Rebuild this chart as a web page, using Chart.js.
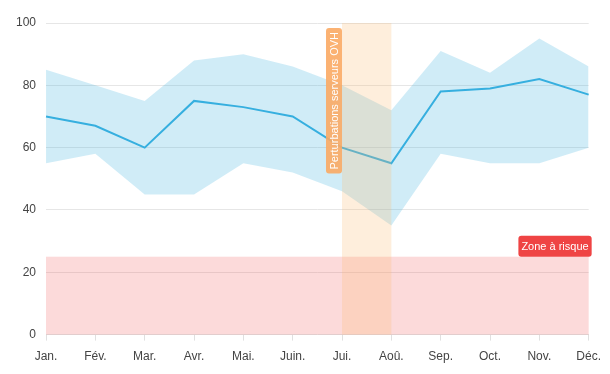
<!DOCTYPE html>
<html>
<head>
<meta charset="utf-8">
<script src="https://cdn.jsdelivr.net/npm/chart.js@4"></script>
<style>
  html, body { margin: 0; padding: 0; background: #fff; }
  #wrap { width: 610px; height: 374px; }
</style>
</head>
<body>
<div id="wrap"><canvas id="chart"></canvas></div>
<script>
const months = ['Jan.', 'Fév.', 'Mar.', 'Avr.', 'Mai.', 'Juin.', 'Jui.', 'Aoû.', 'Sep.', 'Oct.', 'Nov.', 'Déc.']
const average = [70, 67, 60, 75, 73, 70, 60, 55, 78, 79, 82, 77]
const upper = [85, 80, 75, 88, 90, 86, 80, 72, 91, 84, 95, 86]
const lower = [55, 58, 45, 45, 55, 52, 46, 35, 58, 55, 55, 60]
const yTicks = [0, 20, 40, 60, 80, 100]

// zones drawn on top of the datasets (like chartjs-plugin-annotation boxes)
const riskZone = { yMin: 0, yMax: 25, label: 'Zone à risque' }
const outageZone = { xMin: 'Jui.', xMax: 'Aoû.', label: 'Perturbations serveurs OVH' }

function roundRect(ctx, x, y, w, h, r) {
  ctx.beginPath()
  ctx.moveTo(x + r, y)
  ctx.lineTo(x + w - r, y)
  ctx.quadraticCurveTo(x + w, y, x + w, y + r)
  ctx.lineTo(x + w, y + h - r)
  ctx.quadraticCurveTo(x + w, y + h, x + w - r, y + h)
  ctx.lineTo(x + r, y + h)
  ctx.quadraticCurveTo(x, y + h, x, y + h - r)
  ctx.lineTo(x, y + r)
  ctx.quadraticCurveTo(x, y, x + r, y)
  ctx.closePath()
}

const zonesPlugin = {
  id: 'zones',
  afterDatasetsDraw(chart) {
    const { ctx, chartArea, scales } = chart
    const x = scales.x
    const y = scales.y
    ctx.save()
    ctx.font = '11px "Liberation Sans", Arial, sans-serif'

    // risk zone
    const rTop = y.getPixelForValue(riskZone.yMax)
    const rBottom = y.getPixelForValue(riskZone.yMin)
    ctx.fillStyle = 'rgba(239, 68, 68, 0.2)'
    ctx.fillRect(chartArea.left, rTop, chartArea.right - chartArea.left, rBottom - rTop)

    // outage zone
    const oLeft = x.getPixelForValue(months.indexOf(outageZone.xMin))
    const oRight = x.getPixelForValue(months.indexOf(outageZone.xMax))
    ctx.fillStyle = 'rgba(253, 186, 116, 0.25)'
    ctx.fillRect(oLeft, chartArea.top, oRight - oLeft, chartArea.bottom - chartArea.top)

    // risk label
    const rw = ctx.measureText(riskZone.label).width + 6
    const rh = 21
    ctx.fillStyle = '#ef4444'
    roundRect(ctx, chartArea.right + 3 - rw, rTop - rh, rw, rh, 3)
    ctx.fill()
    ctx.fillStyle = '#fff'
    ctx.textBaseline = 'middle'
    ctx.textAlign = 'center'
    ctx.fillText(riskZone.label, chartArea.right + 3 - rw / 2, rTop - rh / 2 + 1)

    // outage label, rotated
    const ow = ctx.measureText(outageZone.label).width + 8
    const oh = 16
    ctx.translate(oLeft - oh / 2, chartArea.top + 5 + ow / 2)
    ctx.rotate(-Math.PI / 2)
    ctx.fillStyle = 'rgba(251, 170, 100, 0.9)'
    roundRect(ctx, -ow / 2, -oh / 2, ow, oh, 3)
    ctx.fill()
    ctx.fillStyle = '#fff'
    ctx.fillText(outageZone.label, 0, 1)
    ctx.restore()
  },
}

new Chart(document.getElementById('chart'), {
  type: 'line',
  data: {
    labels: months,
    datasets: [
      {
        label: 'Max',
        data: upper,
        borderWidth: 0,
        pointRadius: 0,
        backgroundColor: 'rgba(60, 176, 222, 0.24)',
        fill: '+1',
      },
      {
        label: 'Min',
        data: lower,
        borderWidth: 0,
        pointRadius: 0,
        fill: false,
      },
      {
        label: 'Moyenne',
        data: average,
        borderColor: '#35afe0',
        borderWidth: 2,
        pointRadius: 0,
        fill: false,
        tension: 0,
      },
    ],
  },
  options: {
    responsive: true,
    maintainAspectRatio: false,
    animation: false,
    layout: { padding: { top: 23, right: 20, left: 6, bottom: 1 } },
    plugins: {
      legend: { display: false },
      tooltip: { enabled: false },
    },
    scales: {
      x: {
        grid: { drawOnChartArea: false, drawTicks: true, tickLength: 6, color: '#e0e0e0' },
        border: { color: '#e0e0e0' },
        ticks: {
          color: '#444',
          font: { family: '"Liberation Sans", Arial, sans-serif', size: 12 },
          padding: 9,
          maxRotation: 0,
          autoSkip: false,
        },
      },
      y: {
        min: 0,
        max: 100,
        afterBuildTicks: (axis) => {
          axis.ticks = yTicks.map((v) => ({ value: v }))
        },
        grid: { drawTicks: false, color: '#e6e6e6' },
        border: { display: false },
        ticks: {
          color: '#444',
          font: { family: '"Liberation Sans", Arial, sans-serif', size: 12 },
          padding: 10,
        },
      },
    },
  },
  plugins: [zonesPlugin],
})
</script>
</body>
</html>
